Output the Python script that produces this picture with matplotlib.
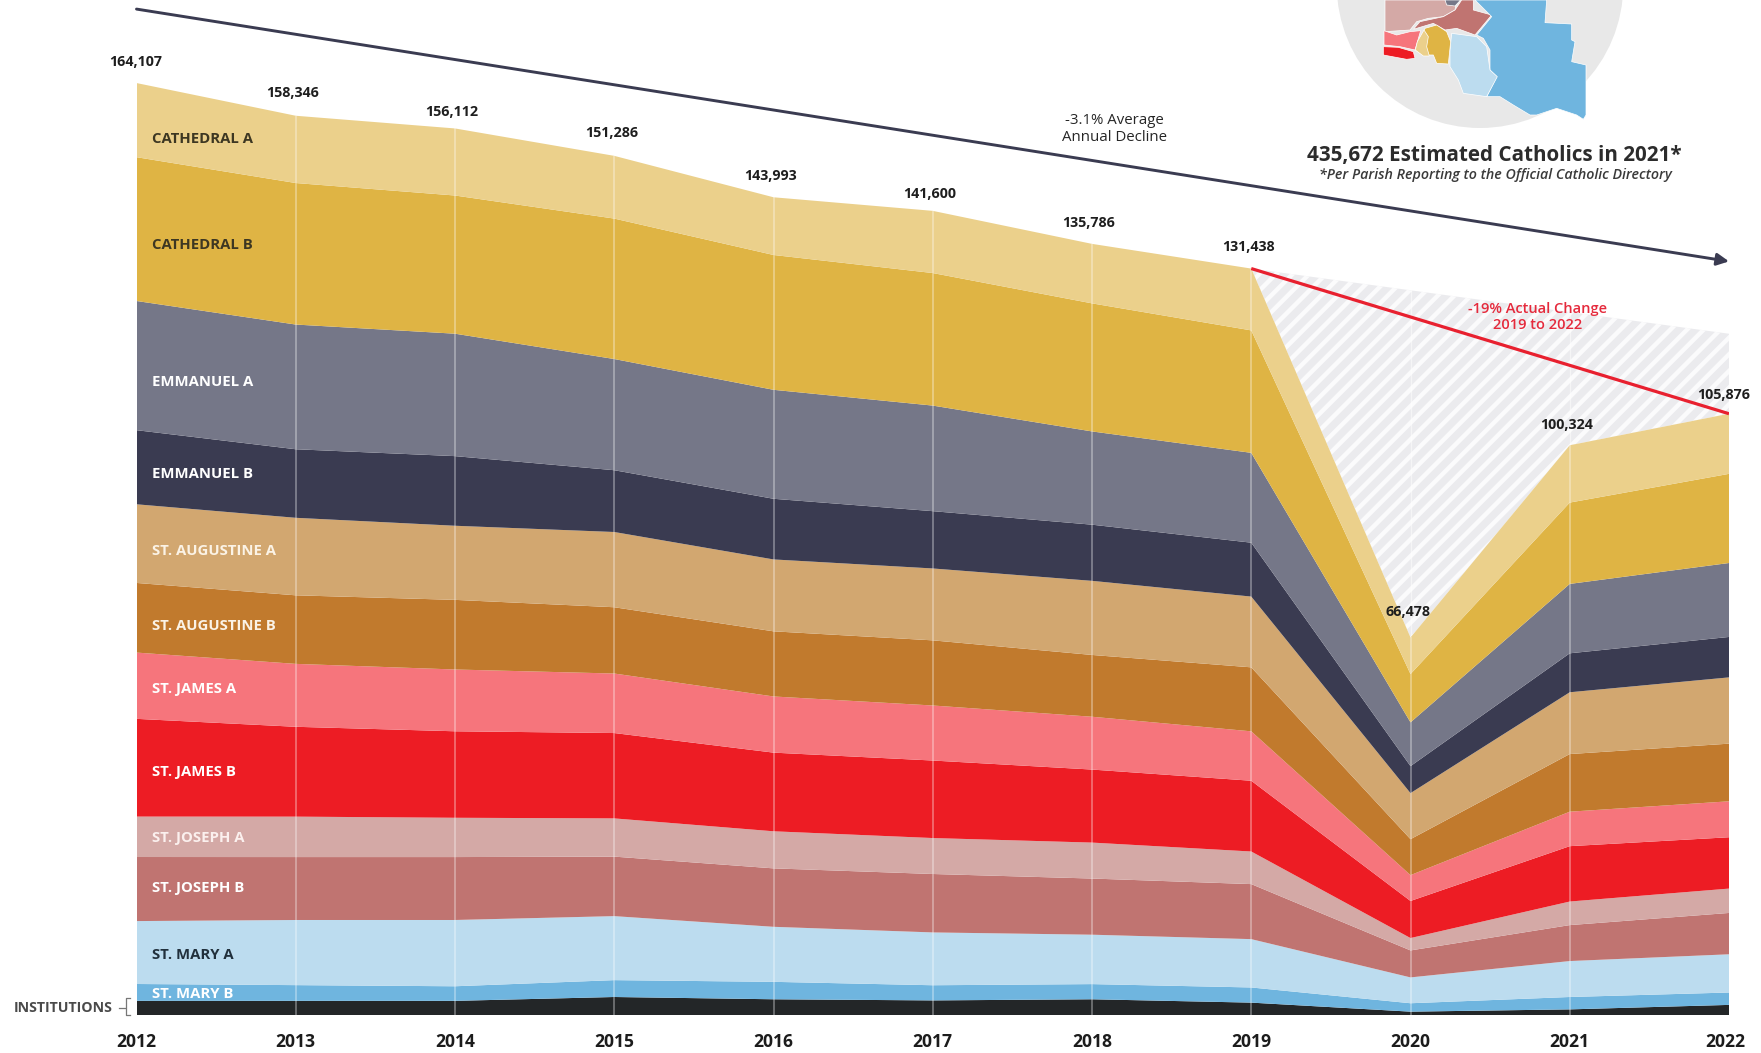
import matplotlib
matplotlib.use("Agg")
import matplotlib.pyplot as plt
from matplotlib.patches import Circle, Polygon
from matplotlib.transforms import ScaledTranslation

plt.rcParams['font.family'] = ['Open Sans', 'DejaVu Sans']
plt.rcParams['hatch.linewidth'] = 3.2
plt.rcParams['hatch.color'] = '#fbfbfc'

years = [2012, 2013, 2014, 2015, 2016, 2017, 2018, 2019, 2020, 2021, 2022]
totals = [164107, 158346, 156112, 151286, 143993, 141600, 135786, 131438, 66478, 100324, 105876]
total_labels = ['164,107', '158,346', '156,112', '151,286', '143,993', '141,600',
                '135,786', '131,438', '66,478', '100,324', '105,876']

cathedral_a = [13057, 11846, 11812, 11046, 10163, 10950, 10476, 10888, 6448, 10094, 10586]
cathedral_b = [25320, 24920, 24330, 24730, 23740, 23340, 22550, 21560, 8500, 14320, 15700]
emmanuel_a = [22750, 21960, 21560, 19580, 19190, 18590, 16420, 15820, 7710, 12220, 13020]
emmanuel_b = [13050, 12070, 12260, 10880, 10680, 10090, 9890, 9490, 4750, 6860, 7120]
augustine_a = [13850, 13650, 13050, 13250, 12660, 12660, 13050, 12460, 8110, 10880, 11670]
augustine_b = [12260, 12070, 12260, 11670, 11470, 11470, 10880, 11270, 6330, 10150, 10150]
james_a = [11670, 11080, 10880, 10480, 9890, 9690, 9300, 8700, 4550, 6070, 6330]
james_b = [17210, 15820, 15230, 15030, 13850, 13650, 12860, 12460, 6530, 9750, 9040]
joseph_a = [7120, 7120, 6920, 6730, 6530, 6330, 6330, 5740, 2180, 4150, 4290]
joseph_b = [11280, 11080, 11080, 10480, 10290, 10290, 9890, 9690, 4750, 6330, 7280]
mary_a = [11080, 11470, 11670, 11270, 9690, 9300, 8700, 8510, 4550, 6330, 6730]
mary_b = [2970, 2770, 2570, 2970, 3070, 2670, 2670, 2670, 1480, 2180, 2180]
institutions = [2490, 2490, 2490, 3170, 2770, 2570, 2770, 2180, 590, 990, 1780]

series_bottom_up = [institutions, mary_b, mary_a, joseph_b, joseph_a, james_b, james_a,
                    augustine_b, augustine_a, emmanuel_b, emmanuel_a, cathedral_b, cathedral_a]
colors_bottom_up = ['#232628', '#6fb5df', '#bcdcef', '#c07471', '#d4a9a6', '#ed1c24', '#f6757c',
                    '#c17a2d', '#d2a770', '#3a3b51', '#757788', '#dfb444', '#ebd08b']

series_names = ['CATHEDRAL A', 'CATHEDRAL B', 'EMMANUEL A', 'EMMANUEL B', 'ST. AUGUSTINE A',
                'ST. AUGUSTINE B', 'ST. JAMES A', 'ST. JAMES B', 'ST. JOSEPH A', 'ST. JOSEPH B',
                'ST. MARY A', 'ST. MARY B']
name_values = [154300, 135500, 111400, 95200, 81700, 68500, 57400, 42800, 31200, 22300, 10500, 3700]
name_colors = ['#3d3722', '#3d3722', 'white', 'white', '#fbf3e6', '#fbf3e6', 'white', 'white',
               '#fbf0ee', 'white', '#21303c', 'white']

trend_years = [2012, 2022]
trend_values = [177130, 132700]
actual_years = [2019, 2022]
actual_values = [131438, 105876]
gap_years = [2019, 2020, 2021, 2022]
gap_upper = [131438, 127612, 123786, 119960]
gap_lower = [131438, 66478, 100324, 105876]

W, H = 1761, 1053
fig = plt.figure(figsize=(W / 100, H / 100), dpi=100, facecolor='white')
LEFT, RIGHT, BASE = 136.5, 1729.0, 1015.0
ax = fig.add_axes([LEFT / W, (H - BASE) / H, (RIGHT - LEFT) / W, BASE / H])
ax.set_xlim(2012, 2022)
ax.set_ylim(0, BASE / 0.005679)
ax.patch.set_visible(False)
for s in ax.spines.values():
    s.set_visible(False)
ax.set_yticks([])
ax.set_xticks(years)
ax.set_xticklabels([str(y) for y in years], fontsize=12.6, fontweight='bold', color='#1c1c1c')
ax.tick_params(axis='x', length=0, pad=13)
last = ax.get_xticklabels()[-1]
last.set_transform(last.get_transform() + ScaledTranslation(-2.4 / 72, 0, fig.dpi_scale_trans))

ax.stackplot(years, *series_bottom_up, colors=colors_bottom_up, linewidth=0, zorder=2)
ax.fill_between(gap_years, gap_lower, gap_upper, facecolor='#ebebee', hatch='//', linewidth=0, zorder=1)

ax.vlines(years[1:-1], 0, totals[1:-1], color='white', alpha=0.38, linewidth=1.2, zorder=3)
ax.vlines(gap_years[1:3], gap_lower[1:3], gap_upper[1:3], color='white', alpha=0.5, linewidth=1.0, zorder=1.5)

ax.plot(actual_years, actual_values, color='#e8202f', linewidth=2.3, zorder=5, solid_capstyle='butt')
ax.annotate('', xy=(trend_years[1], trend_values[1]), xytext=(trend_years[0], trend_values[0]),
            arrowprops=dict(arrowstyle='-|>', color='#3a3b51', linewidth=2.1, mutation_scale=18,
                            shrinkA=0, shrinkB=0), annotation_clip=False, zorder=5)

label_dy = [21, 23, 16, 23, 21, 17, 21, 22, 25, 20, 19]
label_dx = [-1, -3, -3, -3, -3, -3, -3, -3, -3, -3, -5]
for yr, tot, txt, dx, dy in zip(years, totals, total_labels, label_dx, label_dy):
    ax.annotate(txt, xy=(yr, tot), xytext=(dx, dy), textcoords='offset pixels', ha='center', va='center',
                fontsize=10.3, fontweight='bold', color='#1e1e1e', zorder=6, annotation_clip=False)

for nm, v, c in zip(series_names, name_values, name_colors):
    ax.text(2012.098, v, nm, fontsize=10.7, fontweight='bold', color=c, ha='left', va='center', zorder=6)

# pixel-space layer for the decorations
ov = fig.add_axes([0, 0, 1, 1])
ov.set_xlim(0, W)
ov.set_ylim(H, 0)
ov.axis('off')
ov.patch.set_visible(False)

ov.text(1114, 129, '-3.1% Average\nAnnual Decline', ha='center', va='center', fontsize=10.8,
        color='#262626', linespacing=1.1, fontweight='medium')
ov.text(1538, 317, '-19% Actual Change\n2019 to 2022', ha='center', va='center', fontsize=10.5,
        fontweight='semibold', color='#e52a3c', linespacing=1.1)
ov.text(14, 1008, 'INSTITUTIONS', ha='left', va='center', fontsize=10.2, fontweight='bold', color='#4a4a4a')
ov.plot([119, 125], [1008, 1008], color='#777777', linewidth=0.9)
ov.plot([130, 126, 126, 130], [998, 998, 1015, 1015], color='#777777', linewidth=0.9)

ov.text(1494.5, 155.5, '435,672 Estimated Catholics in 2021*', ha='center', va='center', fontsize=14.9,
        fontweight='bold', color='#2c2c2c')
ov.text(1495, 175, '*Per Parish Reporting to the Official Catholic Directory', ha='center', va='center',
        fontsize=10.25, fontstyle='italic', fontweight='semibold', color='#3a3a3a')

ov.add_patch(Circle((1480, -15.3), 143.3, facecolor='#e8e8e8', edgecolor='none', zorder=1))


def region(points, color):
    xy = [(1300 + a / 3, b / 3) for a, b in points]
    ov.add_patch(Polygon(xy, closed=True, facecolor=color, edgecolor='white', linewidth=0.5, zorder=2))


region([(255, 0), (470, 0), (465, 30), (430, 50), (385, 55), (350, 65), (330, 90), (255, 95)], '#d4a9a6')
region([(485, 0), (520, 0), (520, 30), (575, 45), (525, 105), (470, 85), (435, 90), (400, 70), (340, 88),
        (360, 65), (430, 50), (465, 30)], '#c07471')
region([(435, 0), (482, 0), (465, 18), (440, 15)], '#757788')
region([(525, 0), (740, 0), (735, 68), (815, 72), (815, 120), (825, 125), (815, 185), (858, 195), (858, 345),
        (850, 358), (830, 345), (770, 325), (710, 345), (690, 345), (640, 315), (600, 290), (560, 290),
        (590, 230), (570, 210), (570, 150), (550, 115), (530, 105), (575, 50)], '#6fb5df')
region([(455, 100), (530, 110), (560, 140), (570, 210), (592, 230), (560, 290), (490, 280), (475, 240),
        (450, 200), (450, 150)], '#bcdcef')
region([(252, 92), (290, 105), (330, 95), (362, 92), (345, 150), (300, 140), (252, 135)], '#f6757c')
region([(250, 140), (295, 142), (340, 155), (345, 175), (320, 178), (250, 165)], '#ed1c24')
region([(375, 85), (410, 75), (440, 95), (452, 125), (445, 192), (410, 190), (400, 165), (370, 165),
        (345, 150)], '#dfb444')
region([(372, 90), (385, 110), (380, 140), (388, 168), (370, 168), (346, 150), (352, 125)], '#ebd08b')

fig.savefig('out.png', dpi=100, facecolor='white')
